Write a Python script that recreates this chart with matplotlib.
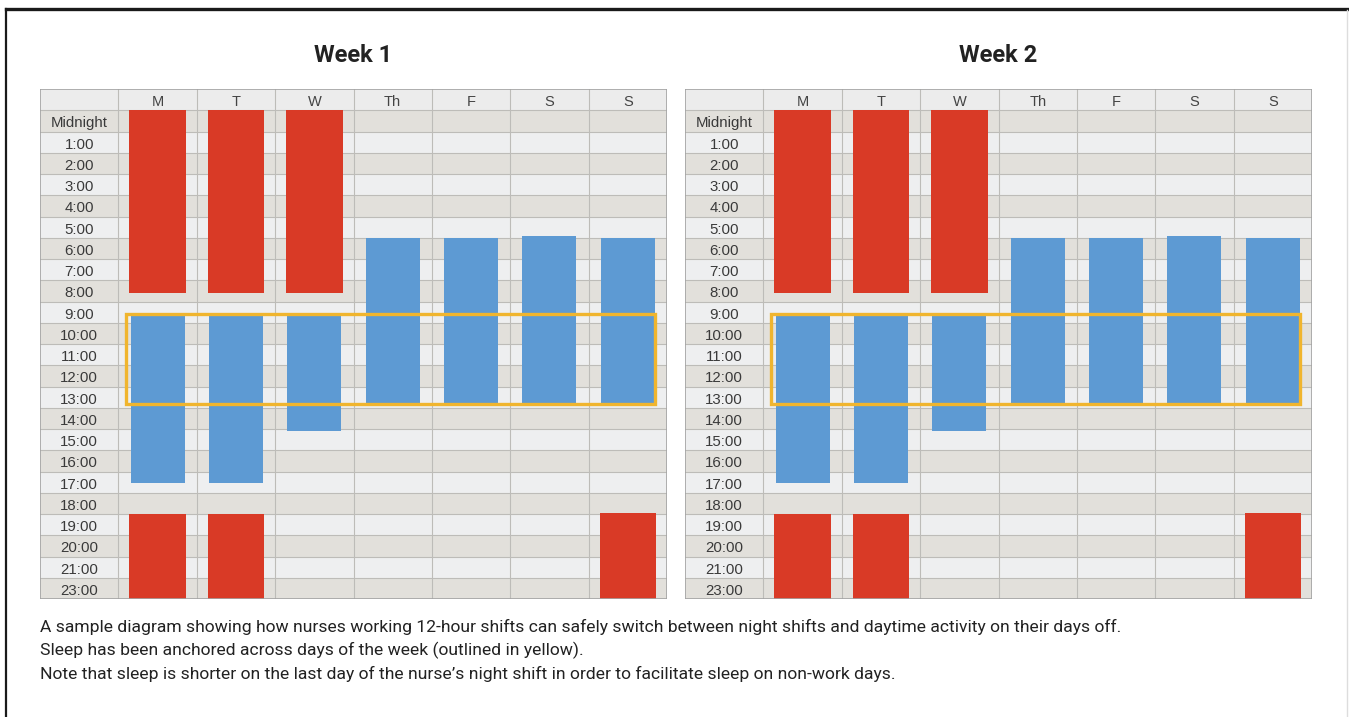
import matplotlib
matplotlib.use("Agg")
import matplotlib.pyplot as plt
from matplotlib.patches import Rectangle
from matplotlib.lines import Line2D

# data
weeks = ["Week 1", "Week 2"]
days = ["M", "T", "W", "Th", "F", "S", "S"]
hour_labels = ["Midnight", "1:00", "2:00", "3:00", "4:00", "5:00", "6:00", "7:00",
               "8:00", "9:00", "10:00", "11:00", "12:00", "13:00", "14:00", "15:00",
               "16:00", "17:00", "18:00", "19:00", "20:00", "21:00", "23:00"]

# night shift blocks (row units, 0 = top of Midnight row)
shift_days = [0, 1, 2, 0, 1, 6]
shift_start = [0.0, 0.0, 0.0, 19.0, 19.0, 18.95]
shift_end = [8.6, 8.6, 8.6, 23.0, 23.0, 23.0]

# sleep blocks
sleep_days = [0, 1, 2, 3, 4, 5, 6]
sleep_start = [9.7, 9.7, 9.7, 6.02, 6.02, 5.93, 6.02]
sleep_end = [17.55, 17.55, 15.1, 13.78, 13.78, 13.78, 13.78]

# anchor sleep window (outlined in yellow)
anchor_start = 9.6
anchor_end = 13.83

caption = ("A sample diagram showing how nurses working 12-hour shifts can safely switch between night shifts and daytime activity on their days off.\n"
           "Sleep has been anchored across days of the week (outlined in yellow).\n"
           "Note that sleep is shorter on the last day of the nurse\u2019s night shift in order to facilitate sleep on non-work days.")

RED = "#d93a26"
BLUE = "#5d9ad3"
YELLOW = "#f0b52e"
ROW_DARK = "#e2e0db"
ROW_LIGHT = "#eeeff0"
HEAD = "#ececec"
GRID = "#bdbcb8"
FONT = ["Roboto", "DejaVu Sans"]
TABLE_FONT = ["Liberation Sans", "DejaVu Sans"]

W, H = 1349, 717
fig = plt.figure(figsize=(W / 100, H / 100), dpi=100)
fig.patch.set_facecolor("white")

n_rows = len(hour_labels)
lefts = [40, 685]

for k, week in enumerate(weeks):
    ax = fig.add_axes([lefts[k] / W, 1 - 599 / H, 627 / W, 510 / H])
    ax.set_xlim(-1.5, len(days) - 0.5)
    ax.set_ylim(n_rows, -1)
    ax.axis("off")

    # row stripes
    ax.add_patch(Rectangle((-1.5, -1), len(days) + 1, 1, facecolor=HEAD, lw=0, zorder=0))
    for i in range(n_rows):
        c = ROW_DARK if i % 2 == 0 else ROW_LIGHT
        ax.add_patch(Rectangle((-1.5, i), len(days) + 1, 1, facecolor=c, lw=0, zorder=0))
        ax.text(-1.0, i + 0.62, hour_labels[i], ha="center", va="center",
                fontsize=10.8, color="#3a3a3a", family=TABLE_FONT)
    # grid
    for i in range(n_rows):
        ax.plot([-1.5, len(days) - 0.5], [i, i], color=GRID, lw=0.8, zorder=1)
    for j in range(len(days)):
        ax.plot([j - 0.5, j - 0.5], [-1, n_rows], color=GRID, lw=0.8, zorder=1)
        ax.text(j, -0.4, days[j], ha="center", va="center", fontsize=10.5,
                color="#444444", family=TABLE_FONT)
    ax.add_patch(Rectangle((-1.5, -1), len(days) + 1, n_rows + 1, facecolor="none",
                           edgecolor="#a3a3a3", lw=1.2, zorder=5))

    # bars
    ax.bar(shift_days, [e - s for s, e in zip(shift_start, shift_end)], bottom=shift_start,
           width=0.72, color=RED, zorder=3)
    ax.bar(sleep_days, [e - s for s, e in zip(sleep_start, sleep_end)], bottom=sleep_start,
           width=0.69, color=BLUE, zorder=3)

    ax.add_patch(Rectangle((-0.4, anchor_start), 6.75, anchor_end - anchor_start,
                           facecolor="none", edgecolor=YELLOW, lw=2.4, zorder=4))

    fig.text((lefts[k] + 313) / W, 1 - 56 / H, week, ha="center", va="center",
             fontsize=17, fontweight="bold", color="#222222", family=FONT)

fig.text(40 / W, 1 - 619 / H, caption, ha="left", va="top", fontsize=12.6,
         color="#222222", family=FONT, linespacing=1.5)

# frame lines
fig.add_artist(Line2D([6 / W, 1], [1 - 9 / H, 1 - 9 / H], color="#1a1a1a", lw=2.4))
fig.add_artist(Line2D([6 / W, 6 / W], [0, 1 - 9 / H], color="#1a1a1a", lw=1.6))
fig.add_artist(Line2D([1347 / W, 1347 / W], [0, 1 - 10 / H], color="#dddddd", lw=1.0))

fig.savefig("out.png", dpi=100)
